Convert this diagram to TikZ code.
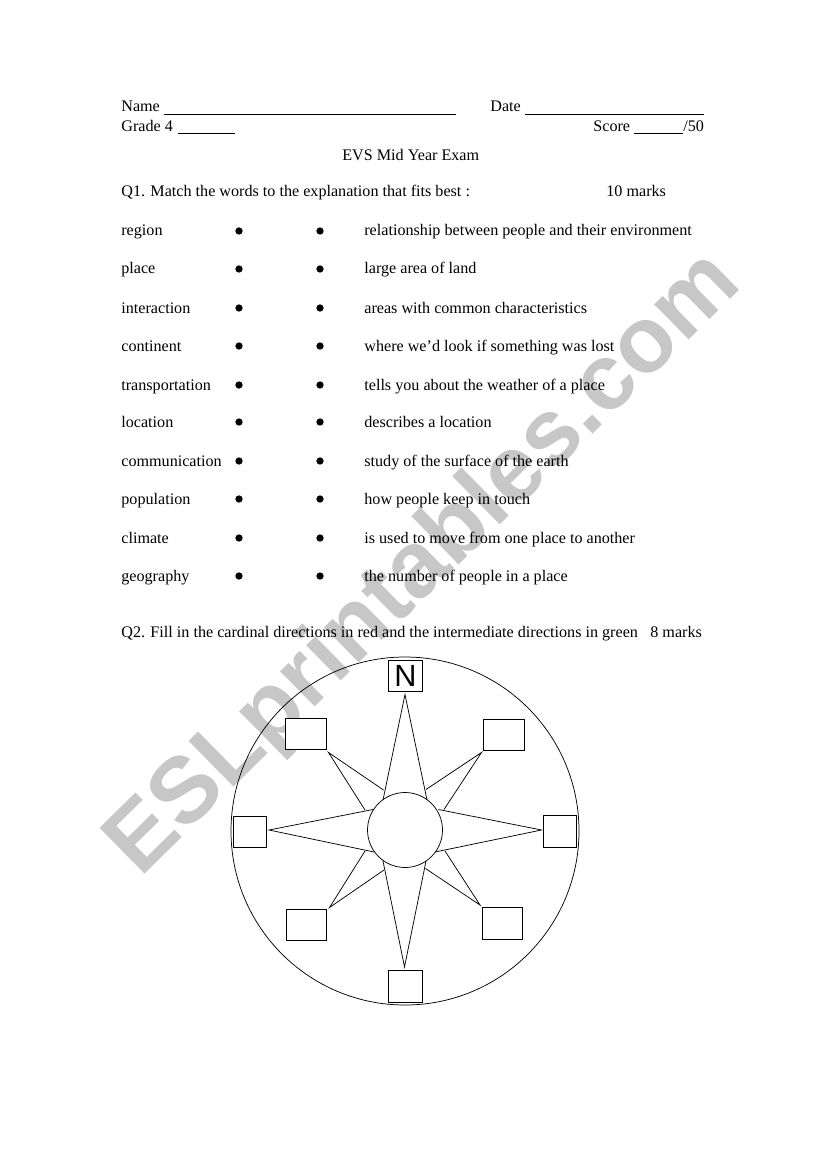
\documentclass[tikz,border=0pt]{standalone}
\usepackage{fontspec}
\setmainfont{Liberation Serif}
\newfontfamily\marksans{Liberation Sans}
\tikzset{every path/.style={black,line width=0.55pt}, txt/.style={anchor=base west, inner sep=0pt, font=\fontsize{12.1}{14}\selectfont},
  blank/.style={draw, fill=white, inner sep=0pt, minimum width=30.4pt, minimum height=23.6pt},
  blanksq/.style={blank, minimum width=25pt},
  spot/.style={circle, fill=black, draw=none, inner sep=0pt, minimum size=5.5pt}}
\begin{document}
\begin{tikzpicture}[x=0.75pt,y=-0.75pt]
   \useasboundingbox (0,0) rectangle (821,1169);
   \node[rotate=44.5, inner sep=0pt, text=black!22, font=\marksans\bfseries\fontsize{70}{70}\selectfont] (mark) at (425,565) {ESLprintables.com};
   % heading
   \node[txt] (name) at (121,112) {Name};
   \node[txt] (date) at (490,112) {Date};
   \node[txt] (grade) at (121,132) {Grade 4};
   \node[txt] (score) at (593,132) {Score};
   \node[txt] (total) at (683,132) {/50};
   \draw (164,114.5) -- (456,114.5);
   \draw (525,114.5) -- (704,114.5);
   \draw (178,133.5) -- (235,133.5);
   \draw (634,133.5) -- (683,133.5);
   \node[txt] (title) at (342,161) {EVS Mid Year Exam};
   \node[txt] (qone) at (121,197) {Q1. Match the words to the explanation that fits best :};
   \node[txt] (qonem) at (606,197) {10 marks};
   % matching rows
   \foreach \yy/\wrd/\expl [count=\i] in {236/region/relationship between people and their environment,
      274/place/large area of land, 313/interaction/areas with common characteristics,
      351/continent/where we’d look if something was lost, 390/transportation/tells you about the weather of a place,
      427/location/describes a location, 466/communication/study of the surface of the earth,
      504/population/how people keep in touch, 543/climate/is used to move from one place to another,
      581/geography/the number of people in a place} {
    \node[txt] (word\i) at (121,\yy) {\wrd};
    \node[spot] (left\i) at (239,\yy-5) {};
    \node[spot] (right\i) at (320,\yy-5) {};
    \node[txt] (expl\i) at (364,\yy) {\expl};
   }
   \node[txt] (qtwo) at (121,637) {Q2. Fill in the cardinal directions in red and the intermediate directions in green};
   \node[txt] (qtwom) at (650,637) {8 marks};
   % compass
   \draw (405,831) circle (174);
   \draw (383,800) -- (405,694.5) -- (427,800);
   \draw (383,861) -- (404.5,967) -- (426,861);
   \draw (373,809.5) -- (269,830) -- (374,852);
   \draw (438.5,809.5) -- (541.5,830) -- (435,852);
   \draw (383.5,790) -- (328.5,752.5) -- (365,810);
   \draw (426,789.5) -- (481.5,752.5) -- (444,809.5);
   \draw (365,851) -- (329.5,907.5) -- (384,870);
   \draw (445,851) -- (480,905) -- (425.5,868.5);
   \draw (405,830) circle (37.5);
   \node[blanksq, font=\marksans\fontsize{23}{23}\selectfont] (boxN) at (405.5,676) {N};
   \node[blanksq] (boxS) at (405.5,986.5) {};
   \node[blanksq] (boxW) at (250,832) {};
   \node[blanksq] (boxE) at (560,831.5) {};
   \node[blank] (boxNW) at (306,734) {};
   \node[blank] (boxNE) at (504,735) {};
   \node[blank] (boxSW) at (306.5,925) {};
   \node[blank] (boxSE) at (502.5,923.5) {};
\end{tikzpicture}
\end{document}
